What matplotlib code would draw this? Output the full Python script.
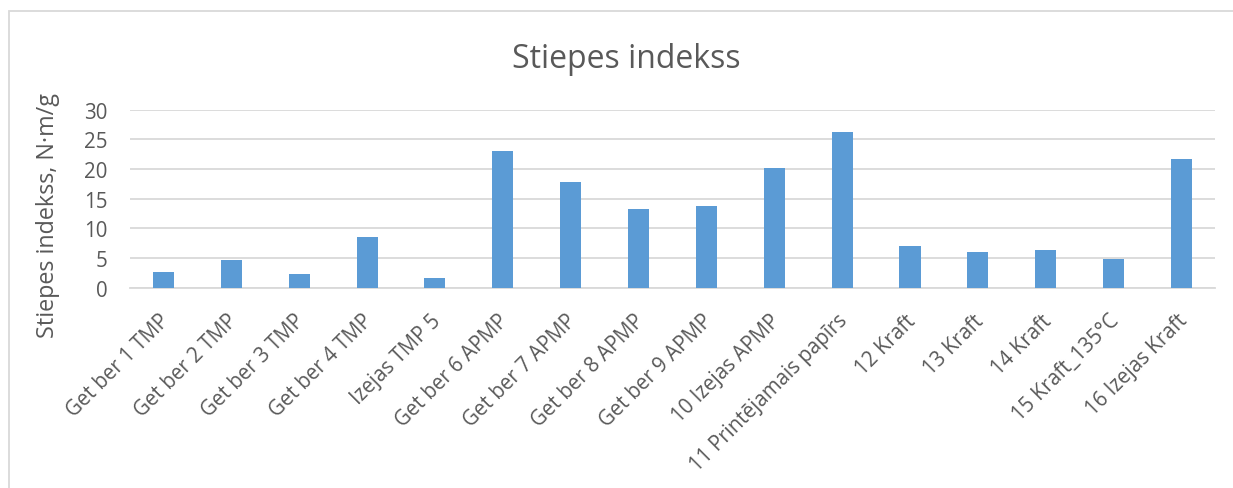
import matplotlib
matplotlib.use('Agg')
import matplotlib.pyplot as plt
import matplotlib.transforms as mtransforms
from matplotlib.patches import Rectangle

categories = ['Get ber 1 TMP', 'Get ber 2 TMP', 'Get ber 3 TMP', 'Get ber 4 TMP',
              'Izejas TMP 5', 'Get ber 6 APMP', 'Get ber 7 APMP', 'Get ber 8 APMP',
              'Get ber 9 APMP', '10 Izejas APMP', '11 Printējamais papīrs', '12 Kraft',
              '13 Kraft', '14 Kraft', '15 Kraft_135°C', '16 Izejas Kraft']
tensile_index = [2.6, 4.6, 2.3, 8.5, 1.6, 23.0, 17.8, 13.3,
                 13.8, 20.2, 26.2, 7.0, 6.0, 6.4, 4.9, 21.7]
y_ticks = [0, 5, 10, 15, 20, 25, 30]

plt.rcParams['font.family'] = ['Open Sans', 'DejaVu Sans']
text_color = '#595959'
grid_color = '#D9D9D9'

fig = plt.figure(figsize=(12.33, 4.89), dpi=100)
ax = fig.add_axes([0.1051, 0.4096, 0.8806, 0.364])

x = range(len(categories))
ax.bar(x, tensile_index, width=0.31, color='#5B9BD5', zorder=3)

ax.set_xlim(-0.5, len(categories) - 0.5)
ax.set_ylim(0, 30)
ax.set_yticks(y_ticks)
ax.set_yticklabels([str(t) for t in y_ticks])
ax.set_xticks(list(x))
ax.set_xticklabels(categories, rotation=45, ha='right', va='top',
                   rotation_mode='anchor')

ax.tick_params(axis='both', length=0, labelsize=14.8, colors=text_color)
ax.tick_params(axis='y', pad=16)
ax.tick_params(axis='x', pad=16)
# nudge the slanted labels a little to the left
shift = mtransforms.ScaledTranslation(-5 / 100, 0, fig.dpi_scale_trans)
for lbl in ax.get_xticklabels():
    lbl.set_transform(lbl.get_transform() + shift)

ax.grid(axis='y', color=grid_color, linewidth=1.3, zorder=0)
for side in ['top', 'right', 'left']:
    ax.spines[side].set_visible(False)
ax.spines['bottom'].set_color(grid_color)
ax.spines['bottom'].set_linewidth(1.3)

fig.text(626 / 1233, 1 - 68 / 489, 'Stiepes indekss', ha='center', va='baseline',
         fontsize=23, color=text_color)
fig.text(48 / 1233, 1 - 215 / 489, 'Stiepes indekss, N·m/g', rotation=90,
         ha='center', va='center', fontsize=16.8, color=text_color)

# chart area border (cut off at right and bottom)
fig.patches.append(Rectangle((8.5 / 1233, -0.1), 1.2, 1.1 - 12 / 489,
                             transform=fig.transFigure, fill=False,
                             edgecolor=grid_color, linewidth=1.3))

fig.savefig('out.png', dpi=100)
